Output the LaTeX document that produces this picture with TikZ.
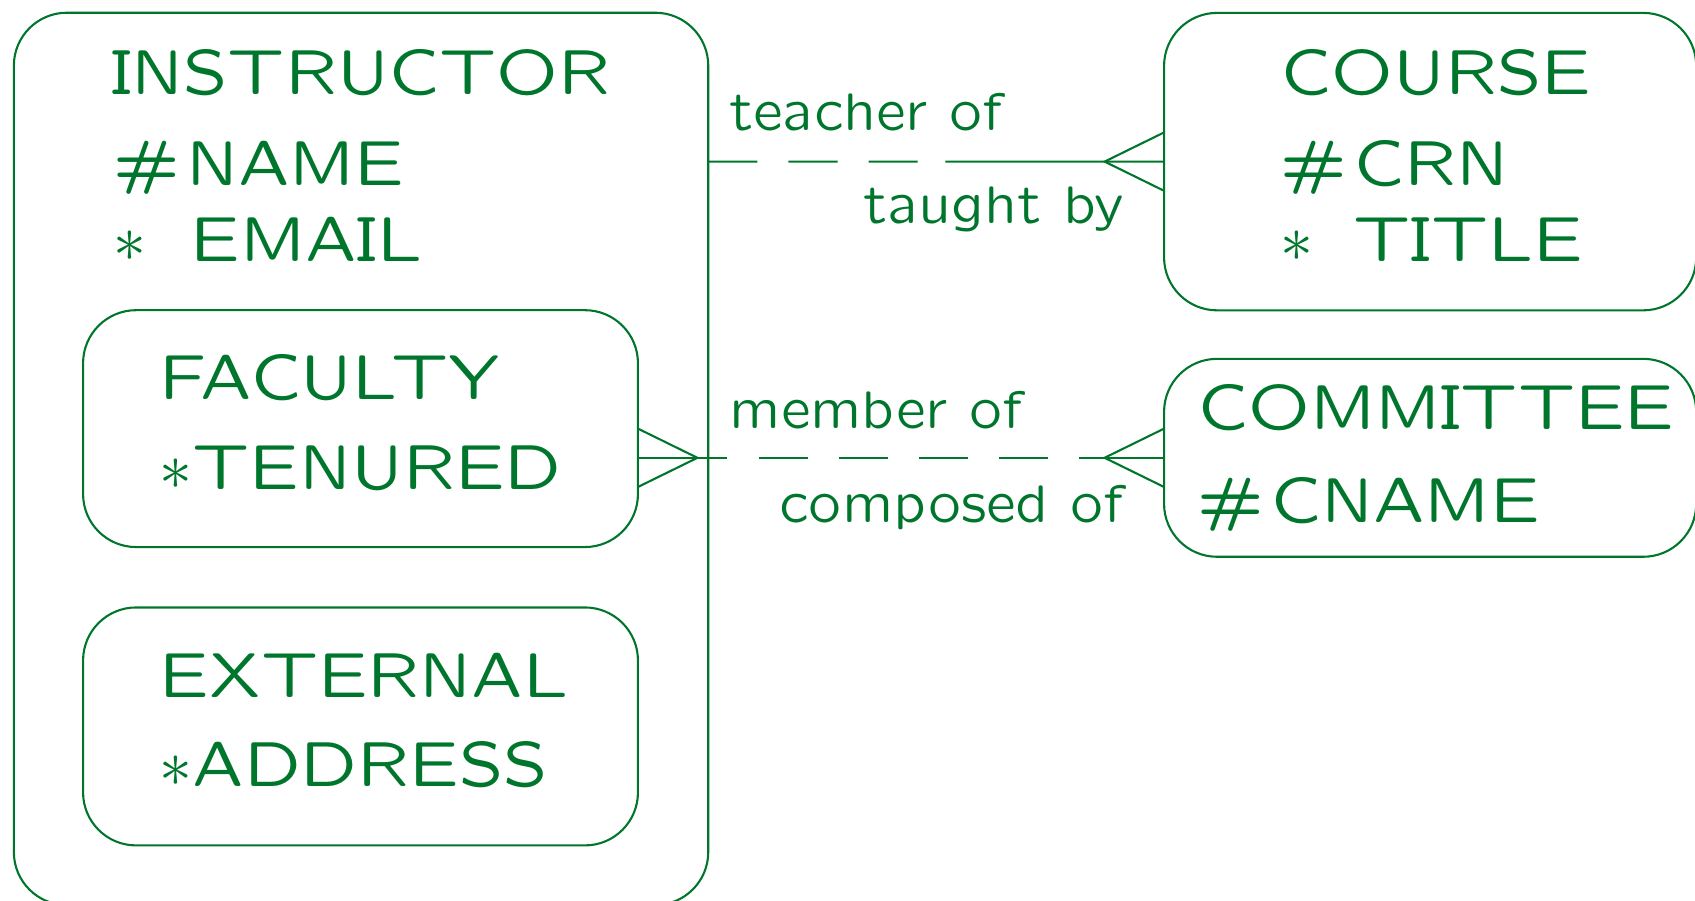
\documentclass[tikz,border=0pt]{standalone}
\usepackage[OT1]{fontenc}
\usetikzlibrary{calc}
\definecolor{ergreen}{RGB}{0,118,45}
% slide sans serif font
\DeclareFontFamily{OT1}{slcmss}{\hyphenchar\font=-1}
\DeclareFontShape{OT1}{slcmss}{m}{n}{<->lcmss8}{}
\newcommand\slidefont{\fontencoding{OT1}\fontfamily{slcmss}\fontseries{m}\fontshape{n}\fontsize{16.8}{20}\selectfont}
\newcommand\rolefont{\fontencoding{OT1}\fontfamily{slcmss}\fontseries{m}\fontshape{n}\fontsize{13.9}{17}\selectfont}
\begin{document}
\begin{tikzpicture}[x=0.01cm,y=-0.01cm,color=ergreen,line width=0.55pt,
    entity/.style={draw, rounded corners=0.49cm, inner sep=0, outer sep=0},
    attr/.style={anchor=base west, inner sep=0, outer sep=0, font=\slidefont},
    role/.style={anchor=base west, inner sep=0, outer sep=0, font=\rolefont},
    optional/.style={dash pattern=on 12.9pt off 8.2pt}]
  \useasboundingbox (0,0) rectangle (1568,833);

  % Drawing entity INSTRUCTOR
  \node[entity, minimum width=6.42cm, minimum height=8.25cm] (instructor) at (334,424.5) {};
  \node[attr] (instructortitle) at (103,87) {INSTRUCTOR};
  \node[attr] (instructorname) at (105,172) {\#\hspace{1.7pt}NAME};
  \node[attr] (instructoremail) at (105,242) {$\ast$\ \hspace{4.7pt}EMAIL};

  % Drawing subtype FACULTY
  \node[entity, minimum width=5.13cm, minimum height=2.19cm] (faculty) at (333.5,396.5) {};
  \node[attr] (facultytitle) at (148,370) {FACULTY};
  \node[attr] (facultytenured) at (148,453) {$\ast$TENURED};

  % Drawing subtype EXTERNAL
  \node[entity, minimum width=5.13cm, minimum height=2.2cm] (external) at (333.5,672) {};
  \node[attr] (externaltitle) at (148,645) {EXTERNAL};
  \node[attr] (externaladdress) at (148,728) {$\ast$ADDRESS};

  % Drawing entity COURSE
  \node[entity, minimum width=4.92cm, minimum height=2.75cm] (course) at (1323,149.5) {};
  \node[attr] (coursetitle) at (1185,87) {COURSE};
  \node[attr] (coursecrn) at (1185,172) {\#\hspace{1.7pt}CRN};
  \node[attr] (coursetitle2) at (1185,242) {$\ast$\ \hspace{3.5pt}TITLE};

  % Drawing entity COMMITTEE
  \node[entity, minimum width=4.92cm, minimum height=1.83cm] (committee) at (1323,423.5) {};
  \node[attr] (committeetitle) at (1108,397) {COMMITTEE};
  \node[attr] (committeecname) at (1108,483) {\#\hspace{1.7pt}CNAME};

  % Drawing relationship INSTRUCTOR - COURSE
  \coordinate (tstart) at (instructor.east |- course.west);
  \coordinate (tmid) at ($(tstart)!0.52!(course.west)$);
  \draw[optional] (tstart) -- (tmid);
  \draw (tmid) -- (course.west);
  \draw (course.west) ++(0,-27) -- ++(-55,27) -- ++(55,27);
  \node[role] (teacherof) at (675,121) {teacher of};
  \node[role, anchor=base east] (taughtby) at (1040,207) {taught by};

  % Drawing relationship FACULTY - COMMITTEE
  \coordinate (mstart) at (faculty.east |- committee.west);
  \draw (mstart) ++(0,-27) -- ++(55,27) coordinate (mapex) -- ++(-55,27);
  \draw (mstart) -- (mapex);
  \draw (committee.west) ++(0,-27) -- ++(-55,27) coordinate (capex) -- ++(55,27);
  \draw (committee.west) -- (capex);
  \draw[optional, dash phase=5pt] (mapex) -- (capex);
  \node[role] (memberof) at (675,396) {member of};
  \node[role, anchor=base east] (composedof) at (1040,483) {composed of};
\end{tikzpicture}
\end{document}
